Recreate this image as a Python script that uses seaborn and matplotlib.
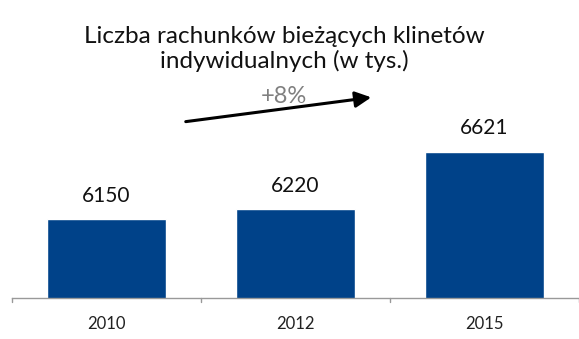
import matplotlib
matplotlib.use("Agg")
import matplotlib.pyplot as plt
import seaborn as sns
import pandas as pd

years = ["2010", "2012", "2015"]
values = [6150, 6220, 6621]
title = "Liczba rachunków bieżących klinetów\nindywidualnych (w tys.)"
growth_label = "+8%"

sns.set_theme(style="white")
plt.rcParams['font.family'] = ['Lato', 'DejaVu Sans']

df = pd.DataFrame({"year": years, "value": values})

fig = plt.figure(figsize=(5.79, 3.39), dpi=100)
ax = fig.add_axes([12/579, 41/339, 1 - 12/579, 298/339])
sns.barplot(data=df, x="year", y="value", color="#004289", saturation=1,
            width=0.625, ax=ax)
ax.set_xlim(-0.5, 2.5)
ax.set_ylim(5600, 7680)
ax.set_xlabel("")
ax.set_ylabel("")
ax.set_yticks([])
for s in ["top", "right", "left"]:
    ax.spines[s].set_visible(False)
ax.spines["bottom"].set_color("#999999")
ax.spines["bottom"].set_linewidth(1)
ax.set_xticks([0, 1, 2])
ax.set_xticklabels(years, fontsize=12, color="#222222")
ax.tick_params(axis="x", length=0, pad=13)
for b in [-0.5, 0.5, 1.5, 2.5]:
    ax.plot([b, b], [5600, 5570], color="#999999", lw=1, clip_on=False)

for i, v in enumerate(values):
    ax.text(i, v + 95, str(v), ha="center", va="bottom", fontsize=15, color="#111111")

fig.text(284/579, 1 - 49/339, title, ha="center", va="center", fontsize=17.5,
         color="#111111", linespacing=1.2)
fig.text(284/579, 1 - 97/339, growth_label, ha="center", va="center",
         fontsize=17, color="#808080")
ax.annotate("", xy=(374/579, 1 - 97/339), xytext=(183/579, 1 - 122/339),
            xycoords="figure fraction", textcoords="figure fraction",
            arrowprops=dict(arrowstyle="-|>,head_length=0.8,head_width=0.4",
                            color="black", lw=2.2))

fig.savefig("out.png", dpi=100)
